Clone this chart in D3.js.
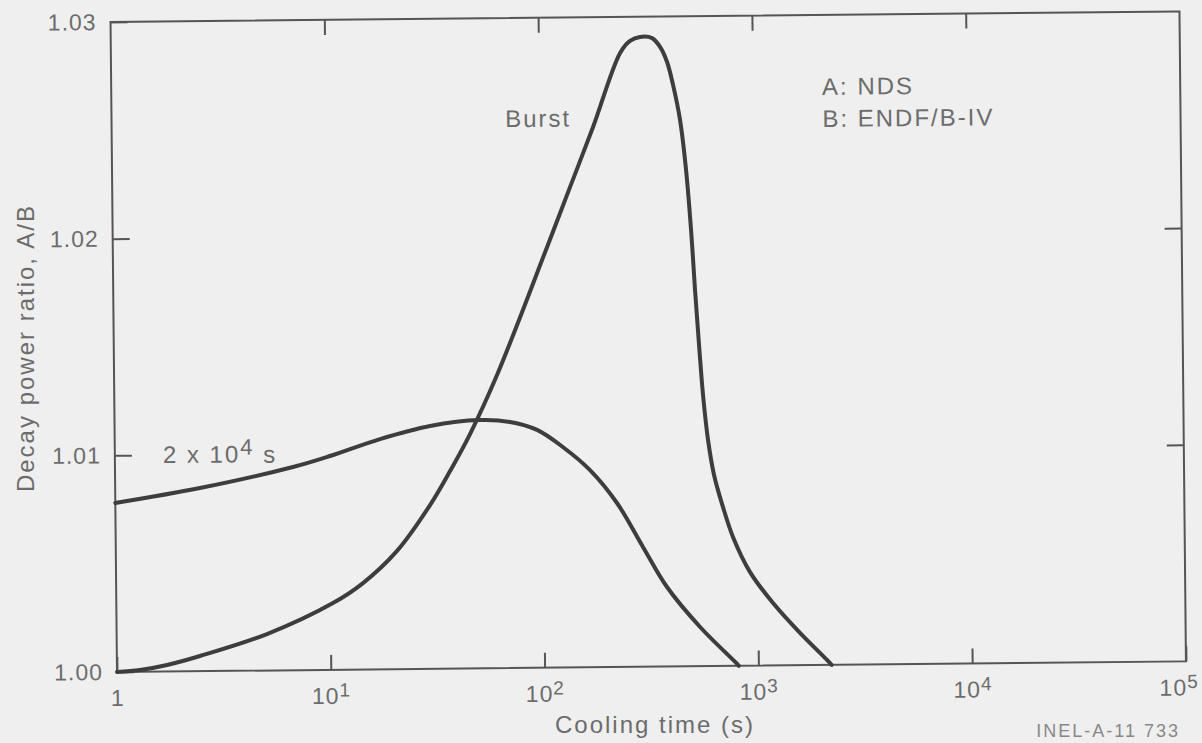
<!DOCTYPE html>
<html>
<head>
<meta charset="utf-8">
<script src="https://cdn.jsdelivr.net/npm/d3@7"></script>
<style>
  html, body { margin: 0; padding: 0; background: #efefef; }
  svg { display: block; }
  text { font-family: "Liberation Sans", Arial, sans-serif; fill: #6c6c6c; }
</style>
</head>
<body>
<div id="chart"></div>
<script>
// cooling time (s) and decay power ratio A/B
const burstTime = [1, 1.281, 1.715, 2.449, 5.05, 10.31, 14.28, 20.67, 29.64, 36.9, 45.94, 61.83, 107.5, 138.6, 178.6, 240.9, 268.5, 299, 340.4,
    370.7, 399, 424.6, 456, 484, 507.6, 526.3, 546.4, 567.3, 595.9, 633.2, 695, 772, 923.6, 1179, 1571, 2095, 2200];
const burstRatio = [1.0000, 1.00008, 1.0003, 1.0007, 1.00168, 1.00308, 1.00399, 1.00546, 1.00756, 1.00912, 1.01082, 1.01353, 1.01942, 1.02218, 1.02493, 1.02834, 1.02889, 1.02907, 1.02901,
    1.0286, 1.0279, 1.02684, 1.02522, 1.02291, 1.02013, 1.01736, 1.01482, 1.01251, 1.01043, 1.00882, 1.00733, 1.00594, 1.00432, 1.00288, 1.00149, 1.00023, 1.0000];

const longTime = [1, 2.49, 6.8, 10.15, 17.42, 29.9, 51, 70.8, 94.6, 124.6, 166.6, 222, 292.7, 377, 536, 794, 810];
const longRatio = [1.0078, 1.00845, 1.00938, 1.00987, 1.01063, 1.01121, 1.01146, 1.01136, 1.01098, 1.01018, 1.0091, 1.00757, 1.00552, 1.00367, 1.00181, 1.0001, 1.0000];

const xTickValues = [1, 10, 100, 1000, 10000, 100000];
const xTickExponents = [null, "1", "2", "3", "4", "5"];
const yTickValues = [1.00, 1.01, 1.02, 1.03];

const notes = [
    { x: 69.3, y: 1.02497, text: "Burst" },
    { x: 2112, y: 1.02631, text: "A: NDS" },
    { x: 2112, y: 1.02483, text: "B: ENDF/B-IV" }
];

const W = 1202, H = 743;
const originX = 117, originY = 672;
const width = 1069, height = 650;
const tilt = -0.57; // the scanned frame is slightly rotated

const svgContainer = d3.select("#chart").append("svg")
    .attr("width", W)
    .attr("height", H)
    .style("background", "#efefef");

const svg = svgContainer.append("g")
    .attr("transform", `translate(${originX},${originY}) rotate(${tilt}) translate(0,${-height})`);

const x = d3.scaleLog()
    .domain([1, 100000])
    .range([0, width]);

const y = d3.scaleLinear()
    .domain([1.0, 1.03])
    .range([height, 0]);

const lineColour = "#3d3d3d";

// frame
svg.append("rect")
    .attr("x", 0)
    .attr("y", 0)
    .attr("width", width)
    .attr("height", height)
    .attr("fill", "none")
    .attr("stroke", "#555")
    .attr("stroke-width", 2);

const styleAxis = (g) => {
    g.select(".domain").remove();
    g.selectAll("line").style("stroke", "#555").style("stroke-width", 2);
};

const xAxisGroup = svg.append("g")
    .attr("transform", `translate(0,${height})`)
    .call(d3.axisBottom(x).tickValues(xTickValues).tickSizeInner(-15).tickSizeOuter(0).tickFormat(""))
    .call(styleAxis);

xAxisGroup.selectAll(".tick text").remove();
xAxisGroup.selectAll(".tick").each(function(d, i) {
    const last = i === xTickValues.length - 1;
    const t = d3.select(this).append("text")
        .attr("x", last ? 12 : 0)
        .attr("y", 34)
        .attr("text-anchor", last ? "end" : "middle")
        .style("font-size", "23px")
        .style("letter-spacing", "1px")
        .style("fill", "#6c6c6c");
    if (xTickExponents[i] === null) {
        t.text("1");
    } else {
        t.append("tspan").text("10");
        t.append("tspan").attr("dy", "-0.38em").style("font-size", "19px").text(xTickExponents[i]);
    }
});

svg.append("g")
    .call(d3.axisTop(x).tickValues(xTickValues.slice(1, 5)).tickSizeInner(-15).tickSizeOuter(0).tickFormat(""))
    .call(styleAxis);

const yAxisGroup = svg.append("g")
    .call(d3.axisLeft(y).tickValues(yTickValues).tickSizeInner(-17).tickSizeOuter(0).tickPadding(14).tickFormat(d3.format(".2f")))
    .call(styleAxis);

yAxisGroup.selectAll("text")
    .style("font-size", "23px")
    .style("letter-spacing", "1px")
    .style("fill", "#6c6c6c")
    .style("font-family", "'Liberation Sans', Arial, sans-serif");

svg.append("g")
    .attr("transform", `translate(${width},0)`)
    .call(d3.axisRight(y).tickValues([1.01, 1.02]).tickSizeInner(-17).tickSizeOuter(0).tickFormat(""))
    .call(styleAxis);

// curves
const line = d3.line()
    .x(d => x(d[0]))
    .y(d => y(d[1]))
    .curve(d3.curveCatmullRom.alpha(0.5));

svg.append("path")
    .datum(longTime.map((t, i) => [t, longRatio[i]]))
    .attr("fill", "none")
    .attr("stroke", lineColour)
    .attr("stroke-width", 4)
    .attr("stroke-linecap", "round")
    .attr("d", line);

svg.append("path")
    .datum(burstTime.map((t, i) => [t, burstRatio[i]]))
    .attr("fill", "none")
    .attr("stroke", lineColour)
    .attr("stroke-width", 4)
    .attr("stroke-linecap", "round")
    .attr("d", line);

// annotations
notes.forEach(n => {
    svg.append("text")
        .attr("x", x(n.x))
        .attr("y", y(n.y))
        .style("font-size", "24px")
        .style("letter-spacing", "2px")
        .text(n.text);
});

const longLabel = svg.append("text")
    .attr("x", x(1.677))
    .attr("y", y(1.00962))
    .style("font-size", "24px")
    .style("letter-spacing", "2px");
longLabel.append("tspan").text("2 x 10");
longLabel.append("tspan").attr("dy", "-0.35em").style("font-size", "22px").text("4");
longLabel.append("tspan").attr("dy", "0.35em").text(" s");

// axis titles
svgContainer.append("text")
    .attr("transform", "translate(34,348) rotate(-90)")
    .attr("text-anchor", "middle")
    .style("font-size", "24px")
    .style("letter-spacing", "2px")
    .text("Decay power ratio, A/B");

svgContainer.append("text")
    .attr("x", 655)
    .attr("y", 733)
    .attr("text-anchor", "middle")
    .style("font-size", "24px")
    .style("letter-spacing", "2px")
    .text("Cooling time (s)");

svgContainer.append("text")
    .attr("x", 1180)
    .attr("y", 737)
    .attr("text-anchor", "end")
    .style("font-size", "18px")
    .style("letter-spacing", "2px")
    .style("fill", "#888")
    .text("INEL-A-11 733");
</script>
</body>
</html>
